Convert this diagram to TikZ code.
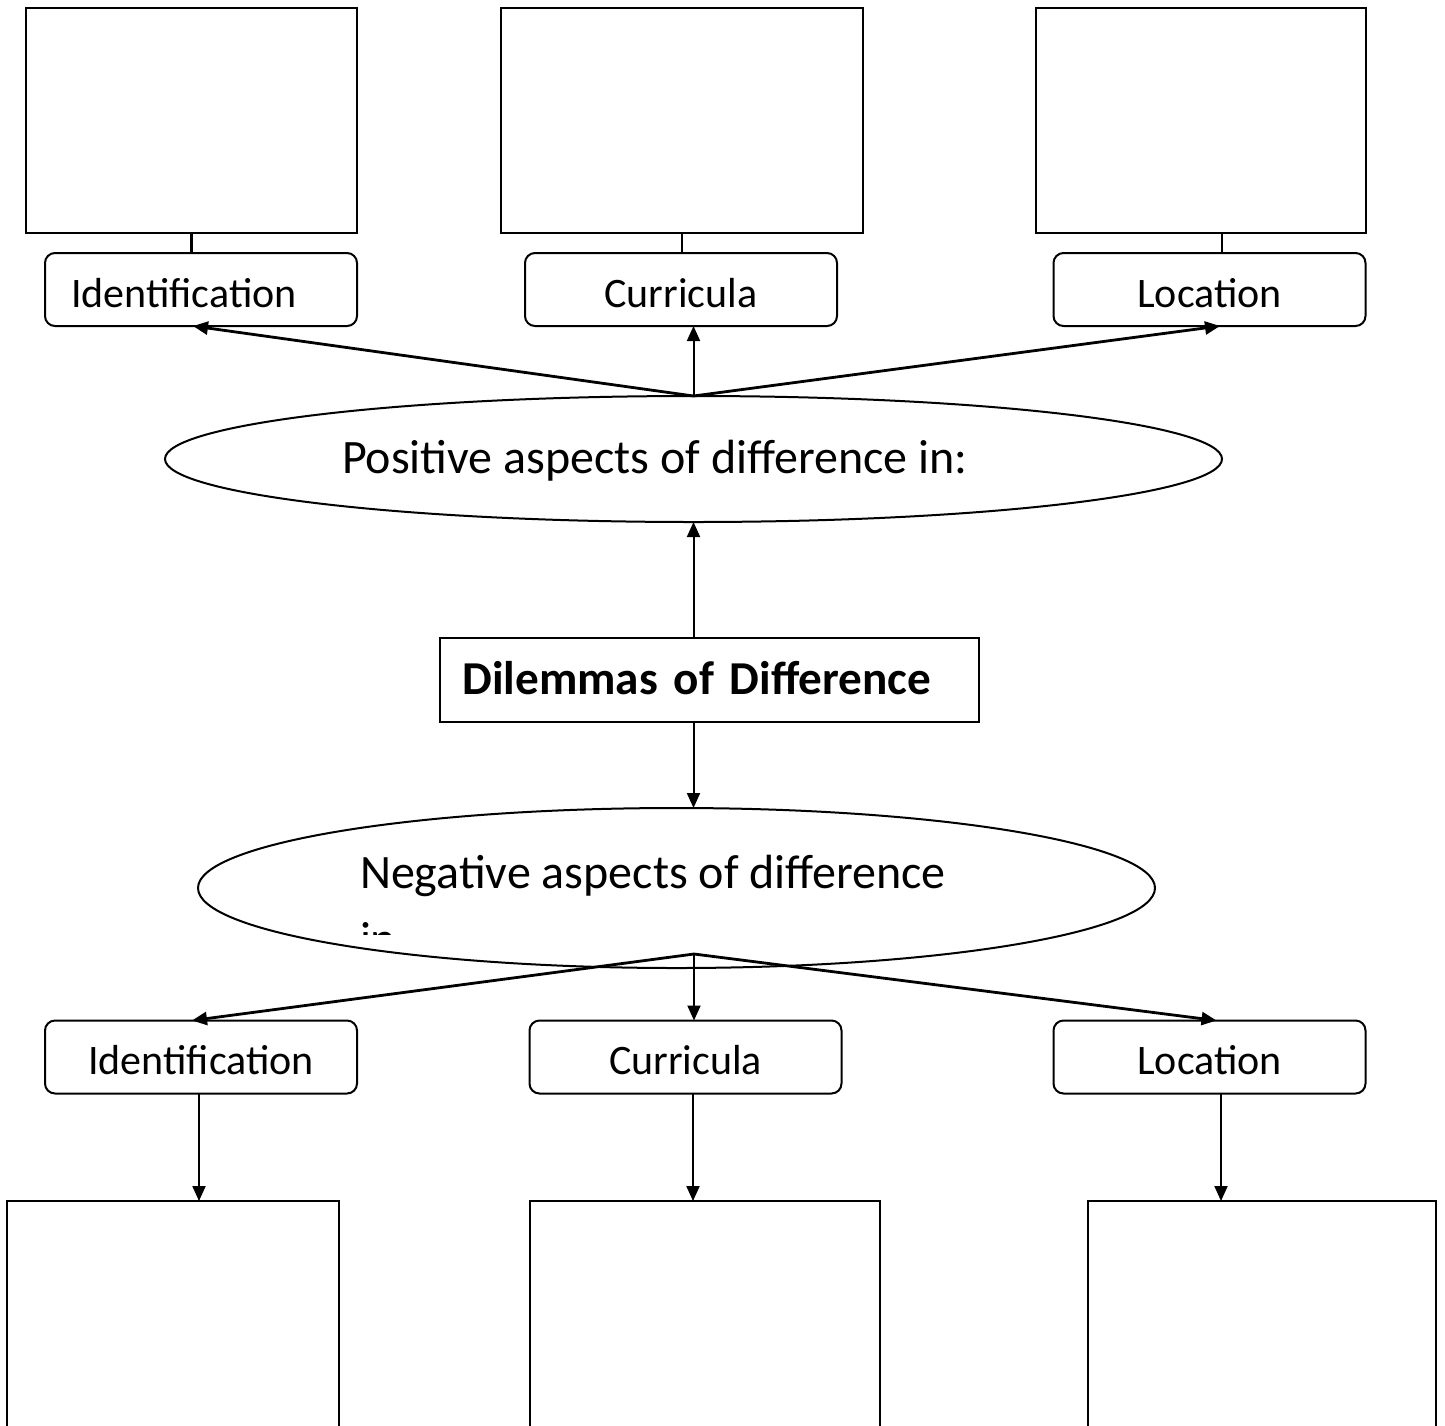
\documentclass[tikz,border=0pt]{standalone}
\usepackage{fontspec}
\setmainfont{Carlito}
\usetikzlibrary{arrows.meta,shapes.geometric,calc}
\begin{document}
\begin{tikzpicture}[x=0.5pt,y=-0.5pt,
  bigbox/.style={draw,rectangle,inner sep=0pt,outer sep=0pt},
  topbox/.style={bigbox,line width=1.4pt},
  botbox/.style={bigbox,line width=1pt},
  labelbox/.style={draw,rectangle,rounded corners=5pt,line width=1pt,minimum width=156pt,minimum height=36.5pt,inner sep=0pt,outer sep=0pt,font=\fontsize{21}{25}\selectfont,text height=17.5pt,text depth=0pt},
  oval/.style={draw,ellipse,line width=1pt,inner sep=0pt,outer sep=0pt},
  big/.style={font=\fontsize{24}{29}\selectfont,inner sep=0pt,outer sep=0pt},
  arr/.style={-{Triangle[length=7.5pt,width=6.5pt]},line width=1pt},
  darr/.style={arr,line width=1.4pt},
  link/.style={line width=1.2pt}
]
\useasboundingbox (0,0) rectangle (1445,1425);
\fill[white] (0,0) rectangle (1445,1425);
\clip (0,0) rectangle (1445,1425);

% top empty boxes
\node[topbox,minimum width=165.5pt,minimum height=112.5pt] (tr1) at (191.5,120.5) {};
\node[topbox,minimum width=181pt,minimum height=112.5pt] (tr2) at (682,120.5) {};
\node[topbox,minimum width=165pt,minimum height=112.5pt] (tr3) at (1201,120.5) {};

% top label boxes
\node[labelbox,align=left,inner xsep=12pt,text width=130pt] (ti) at (201,289.5) {Identification};
\node[labelbox] (tc) at (681,289.5) {Curricula};
\node[labelbox] (tl) at (1209.5,289.5) {Location};

% links top
\draw[link] (tr1.south) -- (tr1.south |- ti.north);
\draw[link] (tr2.south) -- (tr2.south |- tc.north);
\coordinate (c3) at ([xshift=10.5pt]tr3.south);
\draw[link] (c3) -- (c3 |- tl.north);

% positive ellipse
\node[oval,minimum width=528.5pt,minimum height=63pt] (pe) at (693.5,459) {};
\node[big,anchor=base west] (pt) at (342,473) {Positive aspects of difference in:};

\draw[darr] (pe.north) -- ([xshift=-4pt]ti.south);
\draw[arr] (pe.north) -- (pe.north |- tc.south);
\draw[darr] (pe.north) -- ([xshift=5.25pt]tl.south);

% dilemmas
\node[draw,line width=1pt,minimum width=269.5pt,minimum height=42pt,inner sep=0pt,outer sep=0pt,inner xsep=11pt,text width=247pt,align=left,text height=14pt,text depth=0pt,font=\bfseries\fontsize{23.6}{28}\selectfont] (dd) at (709.5,680) {Dilemmas of Difference};

\draw[arr] (pe.south |- dd.north) -- (pe.south);

% negative ellipse
\node[oval,minimum width=478.5pt,minimum height=80pt] (ne) at (676.5,888) {};
\node[big,anchor=base west] (nt) at (360,888) {Negative aspects of difference};
\begin{scope}
  \clip (300,900) rectangle (450,934);
  \node[big,anchor=base west] (nin) at (360,955) {in};
\end{scope}

\draw[arr] (pe.south |- dd.south) -- (pe.south |- ne.north);

% bottom label boxes
\node[labelbox] (bi) at (201,1057) {Identification};
\node[labelbox] (bc) at (685.5,1057) {Curricula};
\node[labelbox] (bl) at (1209.5,1057) {Location};

\coordinate (no) at ([xshift=8.75pt,yshift=7pt]ne.south);
\draw[darr] (no) -- ([xshift=-4.5pt]bi.north);
\draw[arr] (no) -- ([xshift=4.25pt]bc.north);
\draw[darr] (no) -- ([xshift=3.5pt]bl.north);

% bottom empty boxes
\node[botbox,minimum width=166pt,minimum height=150pt] (br1) at (173,1351) {};
\node[botbox,minimum width=175pt,minimum height=150pt] (br2) at (705,1351) {};
\node[botbox,minimum width=174pt,minimum height=150pt] (br3) at (1262,1351) {};

\coordinate (d1) at ([xshift=-1pt]bi.south);
\coordinate (d2) at ([xshift=3.75pt]bc.south);
\coordinate (d3) at ([xshift=5.75pt]bl.south);
\draw[arr] (d1) -- (d1 |- br1.north);
\draw[arr] (d2) -- (d2 |- br2.north);
\draw[arr] (d3) -- (d3 |- br3.north);
\end{tikzpicture}
\end{document}
